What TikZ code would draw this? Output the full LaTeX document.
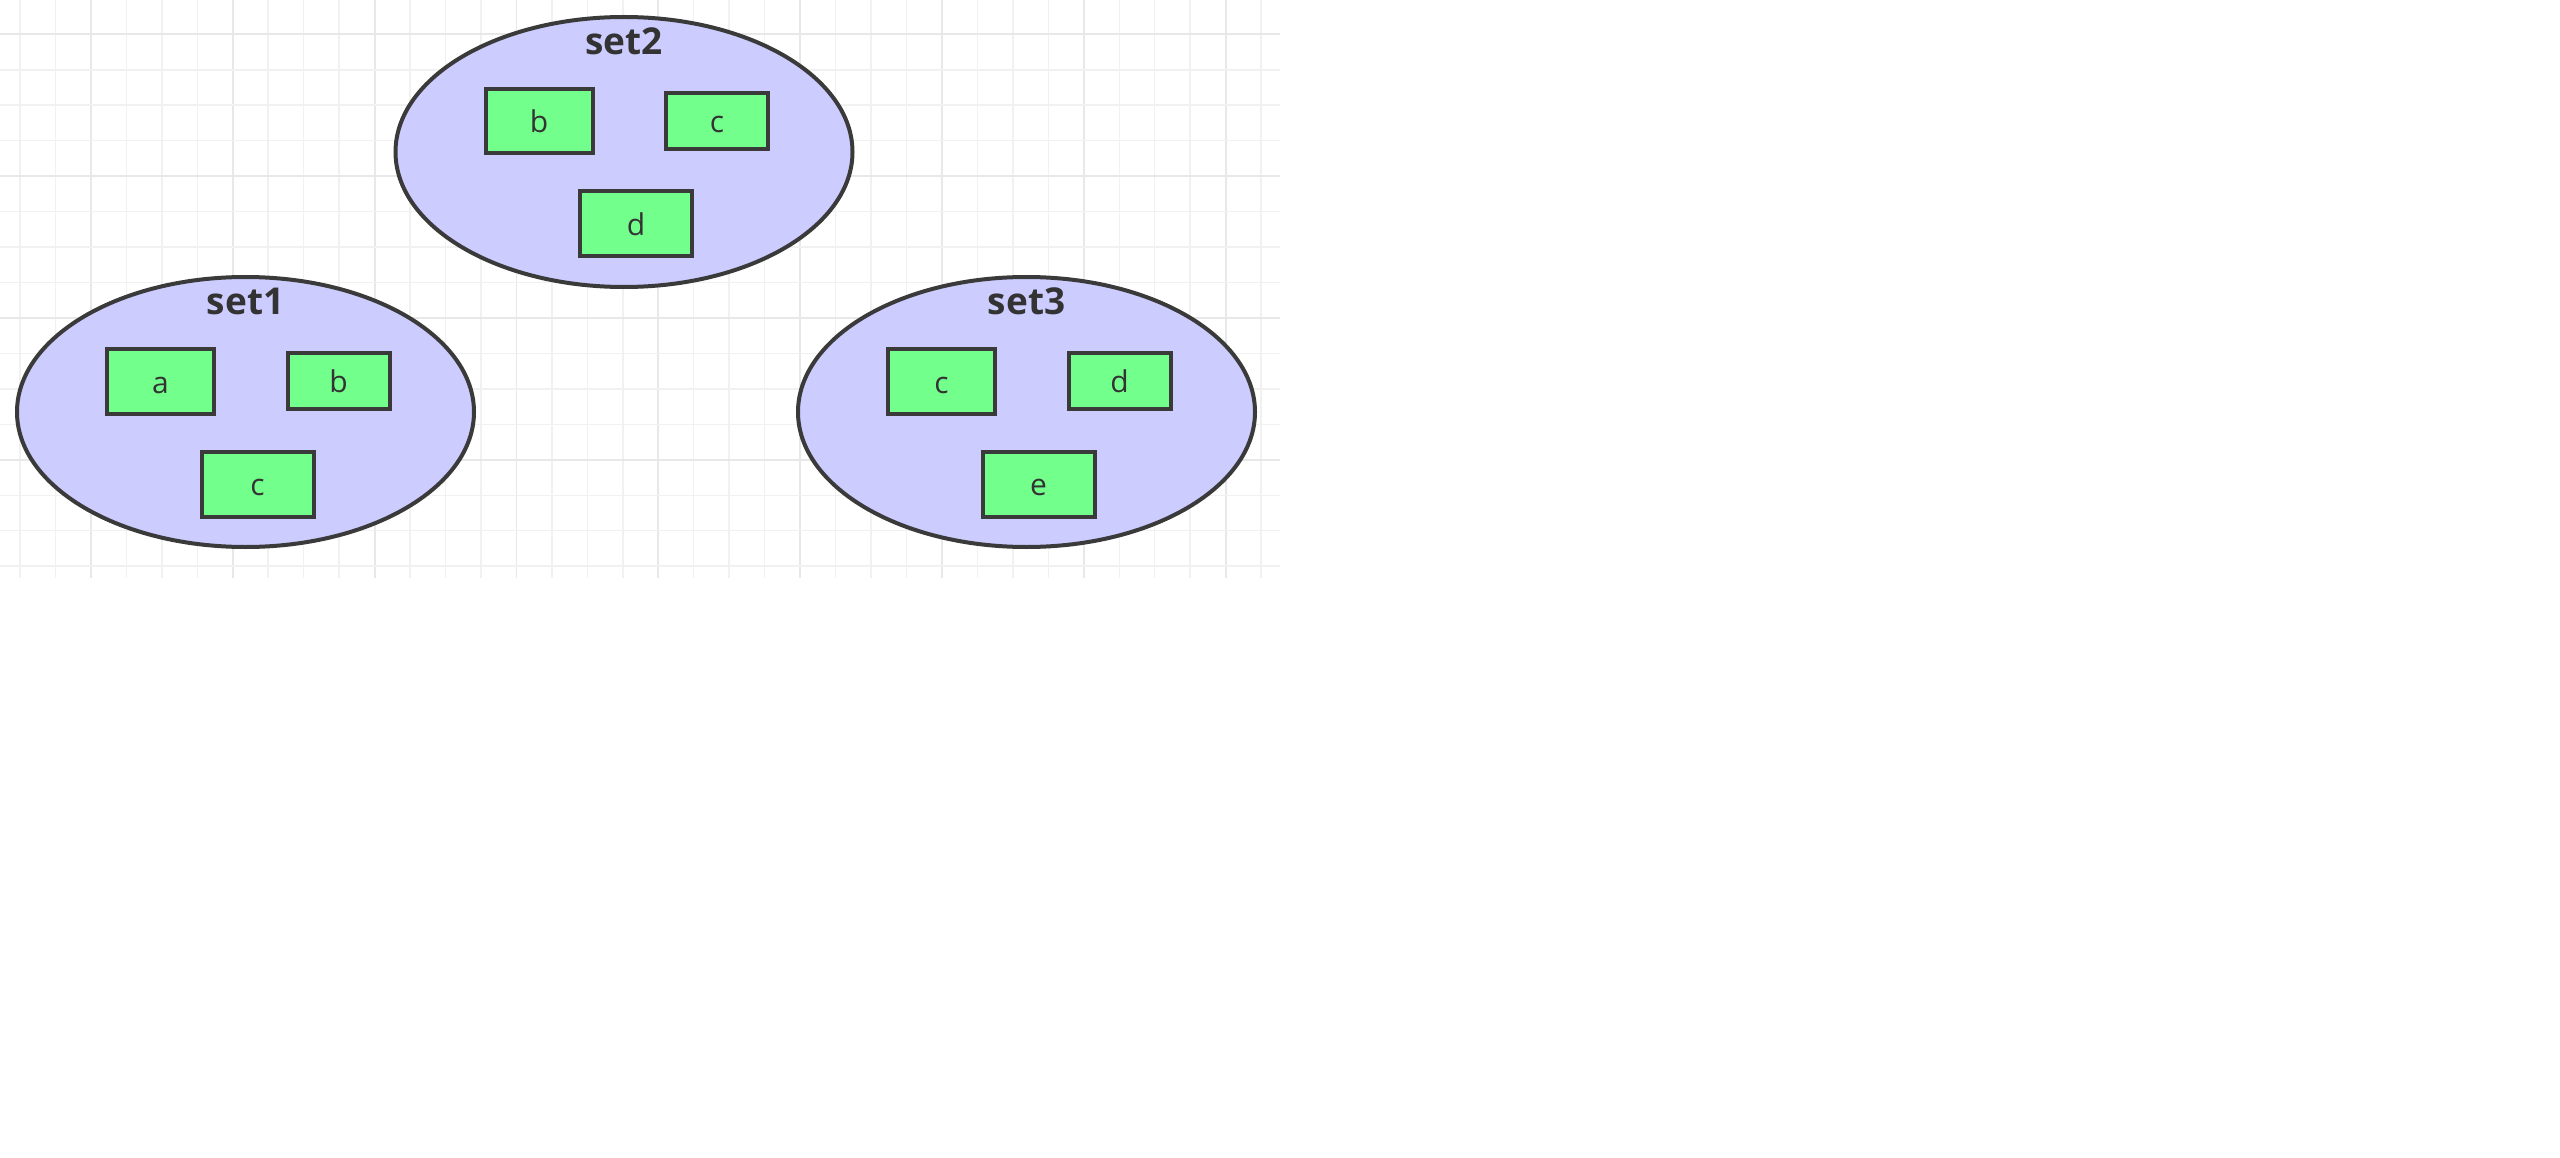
\documentclass[tikz,border=0pt]{standalone}
\usepackage{fontspec}
\setmainfont{Open Sans}
\usetikzlibrary{shapes.geometric}
\definecolor{setfill}{HTML}{CCCCFF}
\definecolor{boxfill}{HTML}{73FF8C}
\definecolor{edgecol}{HTML}{3A3A3A}
\definecolor{txt}{HTML}{333333}
\definecolor{gridminor}{HTML}{F1F1F1}
\definecolor{gridmajor}{HTML}{E8E8E8}
\tikzset{
  setshape/.style={ellipse, draw=edgecol, fill=setfill, line width=4pt,
    minimum width=457pt, minimum height=270pt, inner sep=0pt},
  elem/.style={rectangle, draw=edgecol, fill=boxfill, line width=4pt, inner sep=0pt,
    text=txt, font=\fontsize{30}{36}\selectfont, text height=23pt, text depth=0pt},
  setlabel/.style={text=txt, font=\bfseries\fontsize{37}{44}\selectfont, inner sep=0pt, anchor=base},
  minorline/.style={draw=gridminor, line width=1.5pt},
  majorline/.style={draw=gridmajor, line width=1.8pt},
}
\newcommand\makeset[8]{%
  \begin{scope}[shift={(#2,#3)}]
    \node[setshape] (#1) at (0,0) {};
    \node[setlabel] (#1label) at (0,-97) {#4};
    \node[elem, minimum width=107pt, minimum height=64pt] (#1e1) at (-85,-30.5) {#5};
    \node[elem, minimum width=102pt, minimum height=56pt] (#1e2) at (93,-31) {#6};
    \node[elem, minimum width=112pt, minimum height=65pt] (#1e3) at (12,72) {#7};
  \end{scope}}
\begin{document}
\begin{tikzpicture}[x=1pt,y=-1pt]
\useasboundingbox (0,0) rectangle (2560,1158);
% grid
\foreach \k in {0,...,35} {
  \pgfmathsetmacro\xx{20+35.46*\k}
  \pgfmathtruncatemacro\m{mod(\k,4)}
  \ifnum\m=2 \draw[majorline] (\xx,0) -- (\xx,578); \else \draw[minorline] (\xx,0) -- (\xx,578); \fi
}
\foreach \k in {0,...,15} {
  \pgfmathsetmacro\yy{34.3+35.46*\k}
  \pgfmathtruncatemacro\m{mod(\k,4)}
  \ifnum\m=0 \draw[majorline] (0,\yy) -- (1280,\yy); \else \draw[minorline] (0,\yy) -- (1280,\yy); \fi
}
\makeset{sone}{245.5}{412}{set1}{a}{b}{c}{}
\makeset{stwo}{624}{152}{set2}{b}{c}{d}{}
\makeset{sthree}{1026.5}{412}{set3}{c}{d}{e}{}
\end{tikzpicture}
\end{document}
